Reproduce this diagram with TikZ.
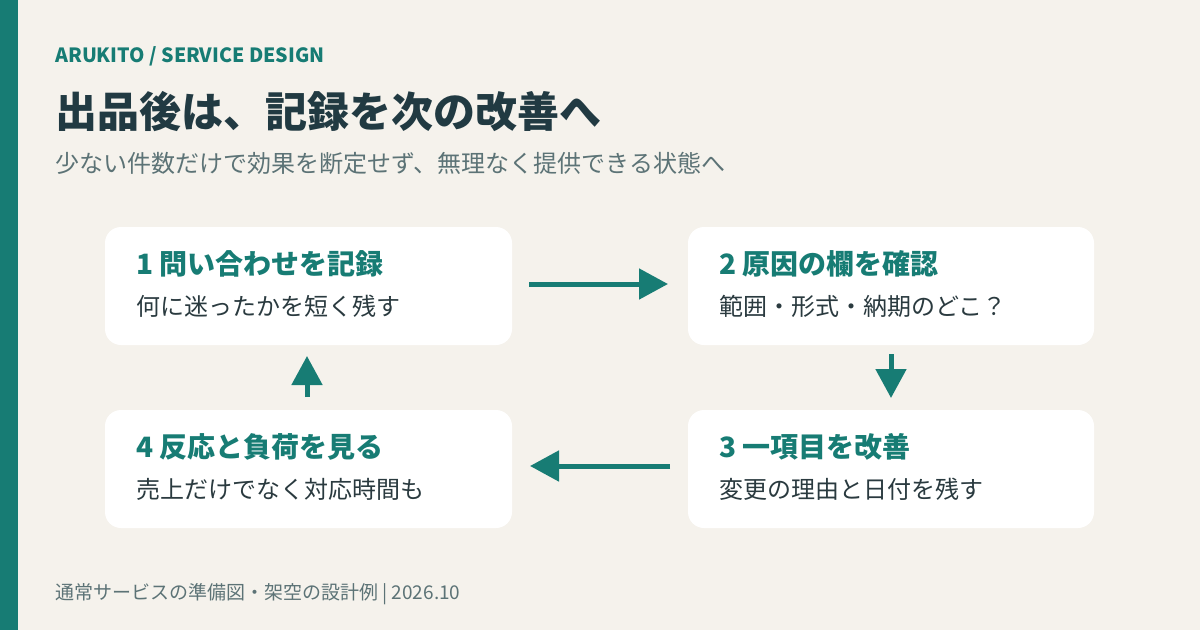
\documentclass[tikz,border=0pt]{standalone}
\usepackage{fontspec}
\setmainfont{Noto Sans CJK JP}
\usetikzlibrary{arrows.meta}
\definecolor{bg}{HTML}{F5F2EC}
\definecolor{teal}{HTML}{177C74}
\definecolor{ink}{HTML}{213A42}
\definecolor{sub}{HTML}{5C7376}
\definecolor{bodyc}{HTML}{2A3A3F}
\tikzset{
  card/.style={fill=white, rounded corners=16pt, draw=none},
  cardtitle/.style={anchor=base west, inner sep=0pt, text=teal, font=\fontsize{28}{31}\selectfont\bfseries},
  cardbody/.style={anchor=base west, inner sep=0pt, text=bodyc, font=\fontsize{24}{27}\selectfont},
  flow/.style={draw=teal, line width=5pt, -{Triangle[length=29pt,width=30pt]}, shorten >=0pt},
}
\begin{document}
\begin{tikzpicture}[x=1pt,y=-1pt]
\useasboundingbox (0,0) rectangle (1200,630);
\fill[bg] (0,0) rectangle (1200,630);
\fill[teal] (0,0) rectangle (18,630);
\node[anchor=base west, inner sep=0pt, text=teal, font=\fontsize{19.6}{22}\selectfont\bfseries] (kicker) at (55,62) {ARUKITO / SERVICE DESIGN};
\node[anchor=base west, inner sep=0pt, text=ink, font=\fontsize{42}{46}\selectfont\bfseries] (title) at (55,127) {出品後は、記録を次の改善へ};
\node[anchor=base west, inner sep=0pt, text=sub, font=\fontsize{24}{27}\selectfont] (subtitle) at (55,172) {少ない件数だけで効果を断定せず、無理なく提供できる状態へ};
% cards
\path[card] (105,227) rectangle (512,345);
\path[card] (688,227) rectangle (1094,345);
\path[card] (688,410) rectangle (1094,528);
\path[card] (105,410) rectangle (512,528);
\node[cardtitle] (t1) at (136,274) {1 問い合わせを記録};
\node[cardbody] (b1) at (136,315) {何に迷ったかを短く残す};
\node[cardtitle] (t2) at (719,274) {2 原因の欄を確認};
\node[cardbody] (b2) at (719,315) {範囲・形式・納期のどこ？};
\node[cardtitle] (t3) at (719,457) {3 一項目を改善};
\node[cardbody] (b3) at (719,498) {変更の理由と日付を残す};
\node[cardtitle] (t4) at (136,457) {4 反応と負荷を見る};
\node[cardbody] (b4) at (136,498) {売上だけでなく対応時間も};
% connectors
\coordinate (a1s) at (529,284); \coordinate (a1e) at (668,284);
\coordinate (a2s) at (891,354); \coordinate (a2e) at (891,398);
\coordinate (a3s) at (670,466); \coordinate (a3e) at (530,466);
\coordinate (a4s) at (307,397); \coordinate (a4e) at (307,356);
\draw[flow] (a1s) -- (a1e);
\draw[flow] (a2s) -- (a2e);
\draw[flow] (a3s) -- (a3e);
\draw[flow] (a4s) -- (a4e);
\node[anchor=base west, inner sep=0pt, text=sub, font=\fontsize{19}{21}\selectfont] (footer) at (55,599) {通常サービスの準備図・架空の設計例 | 2026.10};
\end{tikzpicture}
\end{document}
